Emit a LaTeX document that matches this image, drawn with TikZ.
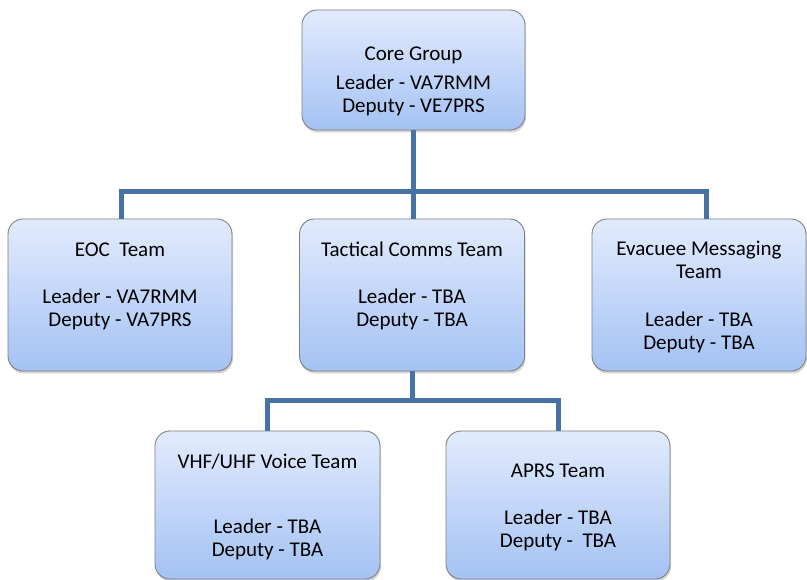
\documentclass[tikz,border=0pt]{standalone}
\usepackage{fontspec}
\setmainfont{Carlito}
\usepackage{xcolor}
\usepackage{tikz}
\usetikzlibrary{shadows, positioning}

\definecolor{boxtop}{RGB}{226,235,253}
\definecolor{boxbot}{RGB}{164,194,244}
\definecolor{boxline}{RGB}{128,128,128}
\definecolor{linkblue}{RGB}{70,114,166}

\begin{document}
\begin{tikzpicture}[x=1pt, y=-1pt,
    team/.style={draw=boxline, line width=0.9pt, rounded corners=15pt,
        top color=boxtop, bottom color=boxbot, inner sep=0pt,
        drop shadow={shadow xshift=1pt, shadow yshift=-2.5pt, opacity=0.35}},
    txt/.style={align=center, font=\fontsize{21}{23}\selectfont},
    link/.style={draw=linkblue, line width=5pt}]
    \useasboundingbox (0,0) rectangle (807,580);

    % Kästen
    \node[team, minimum width=223pt, minimum height=120pt] (core) at (413.5,70) {};
    \node[team, minimum width=224pt, minimum height=152pt] (eoc)  at (120,295) {};
    \node[team, minimum width=225pt, minimum height=152pt] (tac)  at (412,295) {};
    \node[team, minimum width=214pt, minimum height=152pt] (evac) at (699,295) {};
    \node[team, minimum width=225pt, minimum height=148pt] (vhf)  at (267.5,505) {};
    \node[team, minimum width=224pt, minimum height=148pt] (aprs) at (558,505) {};

    % Beschriftungen
    \node[txt] (coreT) at ([yshift=-11pt]core.center)
        {Core Group\\[6pt]Leader - VA7RMM\\Deputy - VE7PRS};
    \node[txt] (eocT) at ([yshift=9pt]eoc.center)
        {EOC\ \ Team\\[24pt]Leader - VA7RMM\\Deputy - VA7PRS};
    \node[txt] (tacT) at ([yshift=9pt]tac.center)
        {Tactical Comms Team\\[24pt]Leader - TBA\\Deputy - TBA};
    \node[txt] (evacT) at ([yshift=-2pt]evac.center)
        {Evacuee Messaging\\Team\\[25pt]Leader - TBA\\Deputy - TBA};
    \node[txt] (vhfT) at ([yshift=-2pt]vhf.center)
        {VHF/UHF Voice Team\\[42pt]Leader - TBA\\Deputy - TBA};
    \node[txt] (aprsT) at ([yshift=-2pt]aprs.center)
        {APRS Team\\[24pt]Leader - TBA\\Deputy -\ \ TBA};

    % Verbindungen
    \coordinate (busA) at (413.5,192);
    \coordinate (busB) at (412,401);
    \draw[link] (core.south) -- (core.south |- tac.north);
    \draw[link] ([xshift=1pt]eoc.north) |- (busA) -| ([xshift=7pt]evac.north);
    \draw[link] (tac.south) -- (busB);
    \draw[link] (vhf.north) |- (busB) -| (aprs.north);
\end{tikzpicture}
\end{document}
